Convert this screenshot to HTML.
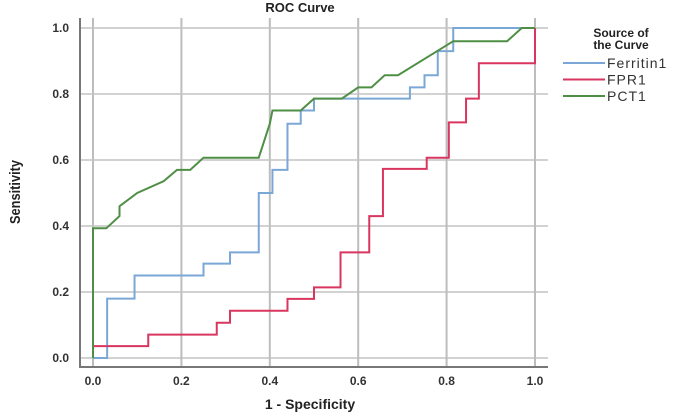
<!DOCTYPE html>
<html><head><meta charset="utf-8"><style>
body{margin:0;background:#fff;width:685px;height:414px;overflow:hidden}
text{font-family:"Liberation Sans",sans-serif}
</style></head><body>
<svg id="chart" width="685" height="414">
<g id="grid"></g><g id="axes"></g><g id="series"></g>
<text x="300" y="12" text-anchor="middle" font-weight="bold" font-size="13" fill="#222">ROC Curve</text>
<text x="310" y="409" text-anchor="middle" font-weight="bold" font-size="14" fill="#222">1 - Specificity</text>
<text transform="translate(20,192) rotate(-90)" text-anchor="middle" font-weight="bold" font-size="15" fill="#222" textLength="64" lengthAdjust="spacingAndGlyphs">Sensitivity</text>
<g>
<text x="621" y="37" text-anchor="middle" font-weight="bold" font-size="12" fill="#222">Source of</text>
<text x="621" y="49" text-anchor="middle" font-weight="bold" font-size="12" fill="#222">the Curve</text>
<g id="legend-items"></g>
</g>
</svg>
<script>
const ticks=[0,0.2,0.4,0.6,0.8,1.0];
const tickLabels=["0.0","0.2","0.4","0.6","0.8","1.0"];
const seriesNames=["Ferritin1","FPR1","PCT1"];
const seriesColors=["#7ba7d6","#d9365f","#4f8f45"];
const ferritinX=[0,0.032,0.032,0.094,0.094,0.25,0.25,0.31,0.31,0.375,0.375,0.406,0.406,0.44,0.44,0.47,0.47,0.5,0.5,0.717,0.717,0.75,0.75,0.78,0.78,0.815,0.815,1];
const ferritinY=[0,0,0.18,0.18,0.25,0.25,0.286,0.286,0.32,0.32,0.5,0.5,0.57,0.57,0.71,0.71,0.75,0.75,0.786,0.786,0.82,0.82,0.857,0.857,0.93,0.93,1,1];
const fprX=[0,0,0.125,0.125,0.28,0.28,0.31,0.31,0.44,0.44,0.5,0.5,0.56,0.56,0.625,0.625,0.656,0.656,0.755,0.755,0.805,0.805,0.844,0.844,0.873,0.873,1,1];
const fprY=[0,0.036,0.036,0.071,0.071,0.107,0.107,0.143,0.143,0.179,0.179,0.214,0.214,0.32,0.32,0.43,0.43,0.573,0.573,0.607,0.607,0.714,0.714,0.786,0.786,0.893,0.893,1];
const pctX=[0,0,0.03,0.06,0.06,0.07,0.1,0.16,0.19,0.22,0.25,0.375,0.4,0.406,0.47,0.5,0.563,0.6,0.63,0.66,0.69,0.815,0.937,0.97,1];
const pctY=[0,0.393,0.393,0.43,0.46,0.47,0.5,0.536,0.57,0.57,0.607,0.607,0.71,0.75,0.75,0.786,0.786,0.82,0.82,0.857,0.857,0.96,0.96,1,1];
const X0=93,X1=535,Y0=358,Y1=28;
const sx=v=>X0+v*(X1-X0), sy=v=>Y0-v*(Y0-Y1);
const NS="http://www.w3.org/2000/svg";
function mk(p,t,a){const e=document.createElementNS(NS,t);for(const k in a)e.setAttribute(k,a[k]);p.appendChild(e);return e;}
const grid=document.getElementById('grid'),axes=document.getElementById('axes'),ser=document.getElementById('series');
ticks.forEach((t,i)=>{
 const gv=mk(grid,'line',{x1:sx(t),x2:sx(t),y1:18,y2:367,stroke:'#bdbdbd','stroke-width':2});
 
 
 const gh=mk(grid,'line',{x1:80,x2:548,y1:sy(t),y2:sy(t),stroke:'#c4c4c4','stroke-width':1.5});
 
 
 const xl=mk(axes,'text',{x:sx(t),y:385,'text-anchor':'middle','font-size':12,fill:'#333','font-weight':'bold'});
 xl.textContent=tickLabels[i];
 
 
 const yl=mk(axes,'text',{x:69,y:sy(t)+4,'text-anchor':'end','font-size':12,fill:'#333','font-weight':'bold'});
 yl.textContent=tickLabels[i];
 
 
});
const ya=mk(axes,'line',{x1:80,x2:80,y1:18,y2:368,stroke:'#777','stroke-width':2});


const xa=mk(axes,'line',{x1:79,x2:548,y1:367,y2:367,stroke:'#777','stroke-width':2});


const data=[[ferritinX,ferritinY],[fprX,fprY],[pctX,pctY]];
const names=['ferritin-curve','fpr-curve','pct-curve'];
data.forEach((d,i)=>{
 const pts=d[0].map((x,j)=>sx(x)+','+sy(d[1][j])).join(' ');
 const pl=mk(ser,'polyline',{points:pts,fill:'none',stroke:seriesColors[i],'stroke-width':2});
 
 
});
const li=document.getElementById('legend-items');
seriesNames.forEach((n,i)=>{
 const y=63+i*16.5;
 const l=mk(li,'line',{x1:563,x2:605,y1:y,y2:y,stroke:seriesColors[i],'stroke-width':2});
 
 
 const t=mk(li,'text',{x:607,y:y+5,'font-size':14,fill:'#333','letter-spacing':'1'});
 t.textContent=n;
 
 
});
</script>
</body></html>
